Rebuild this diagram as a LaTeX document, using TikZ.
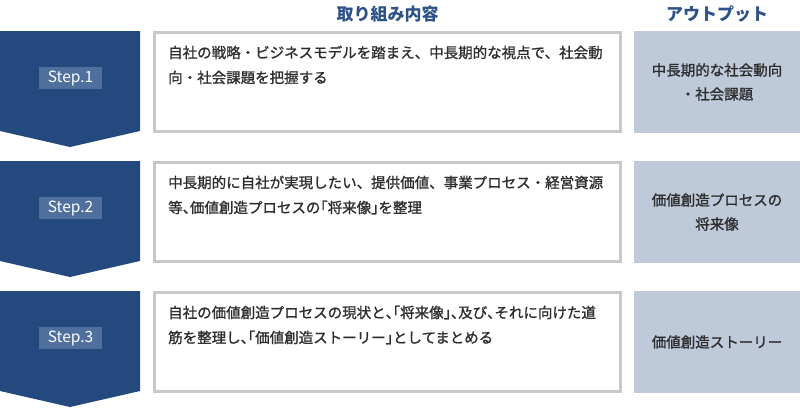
\documentclass[tikz,border=0pt]{standalone}
\usepackage{fontspec}
\setmainfont{Noto Sans CJK JP}
\newfontfamily\bodyfont[FakeBold=1.2]{Noto Sans CJK JP}
\newfontfamily\halffont[FakeBold=1.2,RawFeature=+halt]{Noto Sans CJK JP}
\newcommand{\hw}[1]{{\halffont #1}}
\usetikzlibrary{positioning}
\definecolor{stepblue}{HTML}{23497E}
\definecolor{lblblue}{HTML}{4F6F9C}
\definecolor{headblue}{HTML}{2D5188}
\definecolor{outfill}{HTML}{BEC9DA}
\definecolor{boxgray}{HTML}{C8C8C8}
\definecolor{txtgray}{HTML}{2E2E2E}

\begin{document}
\begin{tikzpicture}[x=1pt,y=-1pt,
  steparrow/.style={fill=stepblue},
  steplabel/.style={fill=lblblue, text=white, minimum width=63pt, minimum height=22pt, inner sep=0pt, font=\fontsize{15.5}{17}\selectfont},
  taskbox/.style={draw=boxgray, line width=3pt, fill=white, minimum width=466pt, minimum height=99pt, inner sep=0pt},
  tasktext/.style={anchor=base west, text width=450pt, align=left, inner sep=0pt, text=txtgray, font=\bodyfont\fontsize{14.5}{25}\selectfont},
  outbox/.style={fill=outfill, minimum width=166pt, minimum height=102pt, inner sep=0pt},
  outtext/.style={align=center, text=txtgray, font=\bodyfont\fontsize{14.5}{24}\selectfont},
  header/.style={text=headblue, font=\fontsize{17}{19}\selectfont\bfseries}]
\useasboundingbox (0,0) rectangle (800,410);

% column headings
\node[header] (headtask) at (387.5,14) {取り組み内容};
\node[header] (headout) at (717,14) {アウトプット};

% one row per step
\foreach \i/\task/\out in {
  1/{自社の戦略・ビジネスモデルを踏まえ、中長期的な視点で、社会動\\向・社会課題を把握する}/{中長期的な社会動向\\・社会課題},
  2/{中長期的に自社が実現したい、提供価値、事業プロセス・経営資源\\等\hw{、}価値創造プロセスの\hw{「}将来像\hw{」}を整理}/{価値創造プロセスの\\将来像},
  3/{自社の価値創造プロセスの現状と\hw{、「}将来像\hw{」、}及び\hw{、}それに向けた道\\筋を整理し\hw{、「}価値創造ストーリー\hw{」}としてまとめる}/{価値創造ストーリー}}{
  \pgfmathsetmacro\oy{130*(\i-1)}
  \fill[steparrow] (0,31+\oy) -- (140,31+\oy) -- (140,131+\oy) -- (70,147+\oy) -- (0,131+\oy) -- cycle;
  \node[steplabel] (step\i) at (70.5,78+\oy) {Step.\i};
  \node[taskbox] (task\i) at (387.5,82+\oy) {};
  \node[tasktext] (tasktxt\i) at (168,58+\oy) {\task};
  \node[outbox] (out\i) at (717,82+\oy) {};
  \node[outtext] (outtxt\i) at (out\i.center) {\out};
}

\end{tikzpicture}
\end{document}
